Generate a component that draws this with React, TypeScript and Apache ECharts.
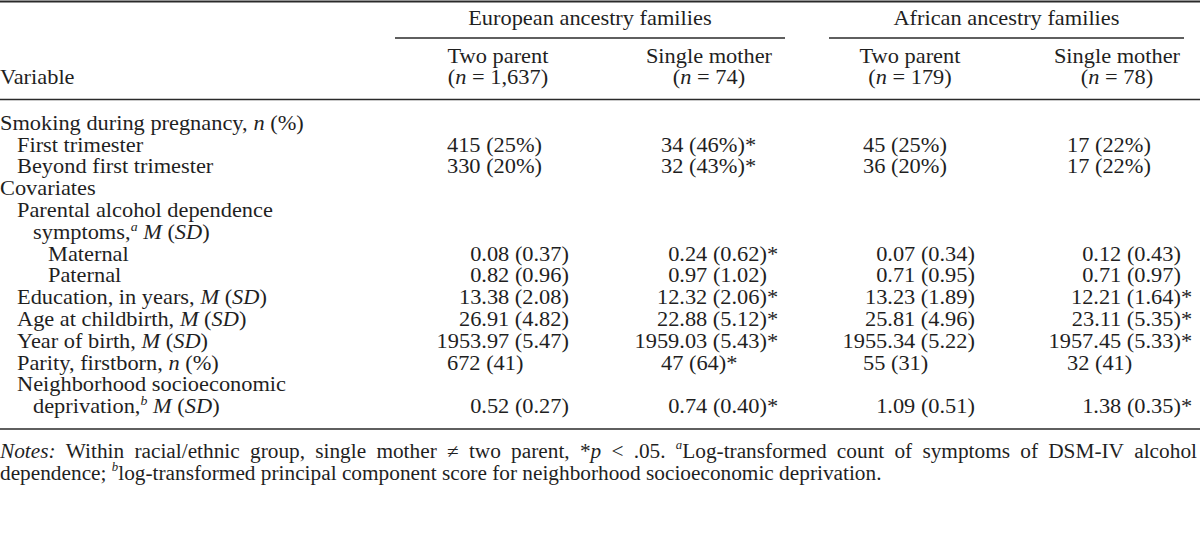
import React, { useEffect, useRef } from "react";
import * as echarts from "echarts";

// ---------- data ----------
const groupTitles = ["European ancestry families", "African ancestry families"];
const subgroupTitles = ["Two parent", "Single mother", "Two parent", "Single mother"];
const subgroupN = ["1,637", "74", "179", "78"];
const stubHeader = "Variable";

const variableLabels = [
  "Smoking during pregnancy, _n_ (%)",
  "First trimester",
  "Beyond first trimester",
  "Covariates",
  "Parental alcohol dependence",
  "symptoms,^a^ _M_ (_SD_)",
  "Maternal",
  "Paternal",
  "Education, in years, _M_ (_SD_)",
  "Age at childbirth, _M_ (_SD_)",
  "Year of birth, _M_ (_SD_)",
  "Parity, firstborn, _n_ (%)",
  "Neighborhood socioeconomic",
  "deprivation,^b^ _M_ (_SD_)",
];
const variableIndent = [0, 1, 1, 0, 1, 2, 3, 3, 1, 1, 1, 1, 1, 2];
// "n" = count (percent), "m" = mean (SD)
const valueKind = ["", "n", "n", "", "", "", "m", "m", "m", "m", "m", "n", "", "m"];

const twoParentEuropean = [null, "415 (25%)", "330 (20%)", null, null, null, "0.08 (0.37)", "0.82 (0.96)", "13.38 (2.08)", "26.91 (4.82)", "1953.97 (5.47)", "672 (41)", null, "0.52 (0.27)"];
const singleMotherEuropean = [null, "34 (46%)*", "32 (43%)*", null, null, null, "0.24 (0.62)*", "0.97 (1.02)", "12.32 (2.06)*", "22.88 (5.12)*", "1959.03 (5.43)*", "47 (64)*", null, "0.74 (0.40)*"];
const twoParentAfrican = [null, "45 (25%)", "36 (20%)", null, null, null, "0.07 (0.34)", "0.71 (0.95)", "13.23 (1.89)", "25.81 (4.96)", "1955.34 (5.22)", "55 (31)", null, "1.09 (0.51)"];
const singleMotherAfrican = [null, "17 (22%)", "17 (22%)", null, null, null, "0.12 (0.43)", "0.71 (0.97)", "12.21 (1.64)*", "23.11 (5.35)*", "1957.45 (5.33)*", "32 (41)", null, "1.38 (0.35)*"];

const notesLines = [
  "_Notes:_ Within racial/ethnic group, single mother \u2260 two parent, *_p_ < .05. ^a^Log-transformed count of symptoms of DSM-IV alcohol",
  "dependence; ^b^log-transformed principal component score for neighborhood socioeconomic deprivation.",
];

// ---------- layout / style ----------
const FONT = "Liberation Serif";
const FS = 21;
const NOTE_FS = 20;
const SX = 1.066;
const INK = "#1f1f1f";

type Part = { t: string; italic: boolean; sup: boolean };

function parse(s: string): Part[] {
  const out: Part[] = [];
  const re = /(_[^_]+_|\^[^^]+\^)/g;
  s.split(re).forEach((p) => {
    if (!p) return;
    if (p.startsWith("_") && p.endsWith("_") && p.length > 1) out.push({ t: p.slice(1, -1), italic: true, sup: false });
    else if (p.startsWith("^") && p.endsWith("^") && p.length > 1) out.push({ t: p.slice(1, -1), italic: true, sup: true });
    else out.push({ t: p, italic: false, sup: false });
  });
  return out;
}

let ctx: CanvasRenderingContext2D | null = null;
function measure(t: string, italic: boolean, size: number) {
  if (!ctx) ctx = document.createElement("canvas").getContext("2d");
  ctx!.font = `${italic ? "italic " : ""}${size}px "${FONT}"`;
  return ctx!.measureText(t).width * SX;
}

function textEl(t: string, x: number, y: number, italic: boolean, size: number) {
  return {
    type: "text",
    x,
    y,
    scaleX: SX,
    silent: true,
    style: {
      text: t,
      x: 0,
      y: 0,
      fontFamily: FONT,
      fontSize: size,
      fontStyle: italic ? "italic" : "normal",
      fill: INK,
      align: "left",
      verticalAlign: "middle",
      textAlign: "left",
      textVerticalAlign: "middle",
    },
  };
}

function layout(s: string, x: number, y: number, align: "left" | "right" | "center", size = FS, justifyTo?: number) {
  const parts = parse(s);
  const supSize = Math.round(size * 0.62);
  const pw = (p: Part) => measure(p.t, p.italic, p.sup ? supSize : size);
  const els: any[] = [];
  if (justifyTo !== undefined) {
    const atoms: { p: Part; space: boolean }[] = [];
    parts.forEach((p) => {
      p.t.split(/( )/).forEach((a) => {
        if (a === "") return;
        atoms.push({ p: { ...p, t: a }, space: a === " " });
      });
    });
    const natural = atoms.reduce((s2, a) => s2 + pw(a.p), 0);
    const nSpaces = atoms.filter((a) => a.space).length;
    const extra = nSpaces ? Math.max(0, (justifyTo - x - natural) / nSpaces) : 0;
    let cx = x;
    atoms.forEach((a) => {
      const w = pw(a.p);
      if (!a.space) els.push(textEl(a.p.t, cx, a.p.sup ? y - size * 0.27 : y, a.p.italic, a.p.sup ? supSize : size));
      cx += w + (a.space ? extra : 0);
    });
    return els;
  }
  const total = parts.reduce((s2, p) => s2 + pw(p), 0);
  let cx = align === "left" ? x : align === "right" ? x - total : x - total / 2;
  parts.forEach((p) => {
    const lead = (p.t.match(/^ */) as RegExpMatchArray)[0];
    const body = p.t.trim();
    const lw = lead ? measure(lead, p.italic, p.sup ? supSize : size) : 0;
    if (body) els.push(textEl(body, cx + lw, p.sup ? y - size * 0.27 : y, p.italic, p.sup ? supSize : size));
    cx += pw(p);
  });
  return els;
}

function rule(x1: number, x2: number, y: number, w: number) {
  return { type: "line", silent: true, shape: { x1, y1: y, x2, y2: y }, style: { stroke: "#2a2a2a", lineWidth: w } };
}

function buildOption() {
  const els: any[] = [];
  const columns = [twoParentEuropean, singleMotherEuropean, twoParentAfrican, singleMotherAfrican];
  const groupSpans = [
    [395, 785],
    [829, 1184],
  ];
  const colCenters = [498, 709, 910, 1117];
  const nLeft = [447, 661, 863, 1067];
  const mRight = [569, 767, 975, 1181];
  const indentX = [0, 17, 33, 48];
  const rowY0 = 123;
  const rowStep = 21.8;

  // rules
  els.push(rule(0, 1200, 1.5, 2));
  groupSpans.forEach(([a, b]) => els.push(rule(a, b, 38, 1.5)));
  els.push(rule(0, 1200, 99.5, 1.5));
  els.push(rule(0, 1200, 429, 1.5));

  // headers
  groupTitles.forEach((g, i) => {
    const [a, b] = groupSpans[i];
    els.push(...layout(g, (a + b) / 2, 18, "center"));
  });
  subgroupTitles.forEach((s, i) => {
    els.push(...layout(s, colCenters[i], 56, "center"));
    els.push(...layout(`(_n_ = ${subgroupN[i]})`, colCenters[i], 77, "center"));
  });
  els.push(...layout(stubHeader, 0, 77, "left"));

  // body
  variableLabels.forEach((lab, r) => {
    const y = rowY0 + r * rowStep;
    els.push(...layout(lab, indentX[variableIndent[r]], y, "left"));
    columns.forEach((col, c) => {
      const v = col[r];
      if (!v) return;
      const star = v.endsWith("*");
      const base = star ? v.slice(0, -1) : v;
      const w = measure(base, false, FS);
      if (valueKind[r] === "n") {
        els.push(textEl(base, nLeft[c], y, false, FS));
        if (star) els.push(textEl("*", nLeft[c] + w, y, false, FS));
      } else {
        els.push(textEl(base, mRight[c] - w, y, false, FS));
        if (star) els.push(textEl("*", mRight[c], y, false, FS));
      }
    });
  });

  // notes
  els.push(...layout(notesLines[0], 0, 451, "left", NOTE_FS, 1197));
  els.push(...layout(notesLines[1], 0, 473, "left", NOTE_FS));

  return {
    animation: false,
    backgroundColor: "#ffffff",
    graphic: { elements: els },
  };
}

export default function App() {
  const ref = useRef<HTMLDivElement>(null);
  useEffect(() => {
    document.body.style.margin = "0";
    const chart = echarts.init(ref.current!, null, { renderer: "svg" });
    chart.setOption(buildOption() as any);
    return () => chart.dispose();
  }, []);
  return <div ref={ref} style={{ width: 1200, height: 533, background: "#fff" }} />;
}
